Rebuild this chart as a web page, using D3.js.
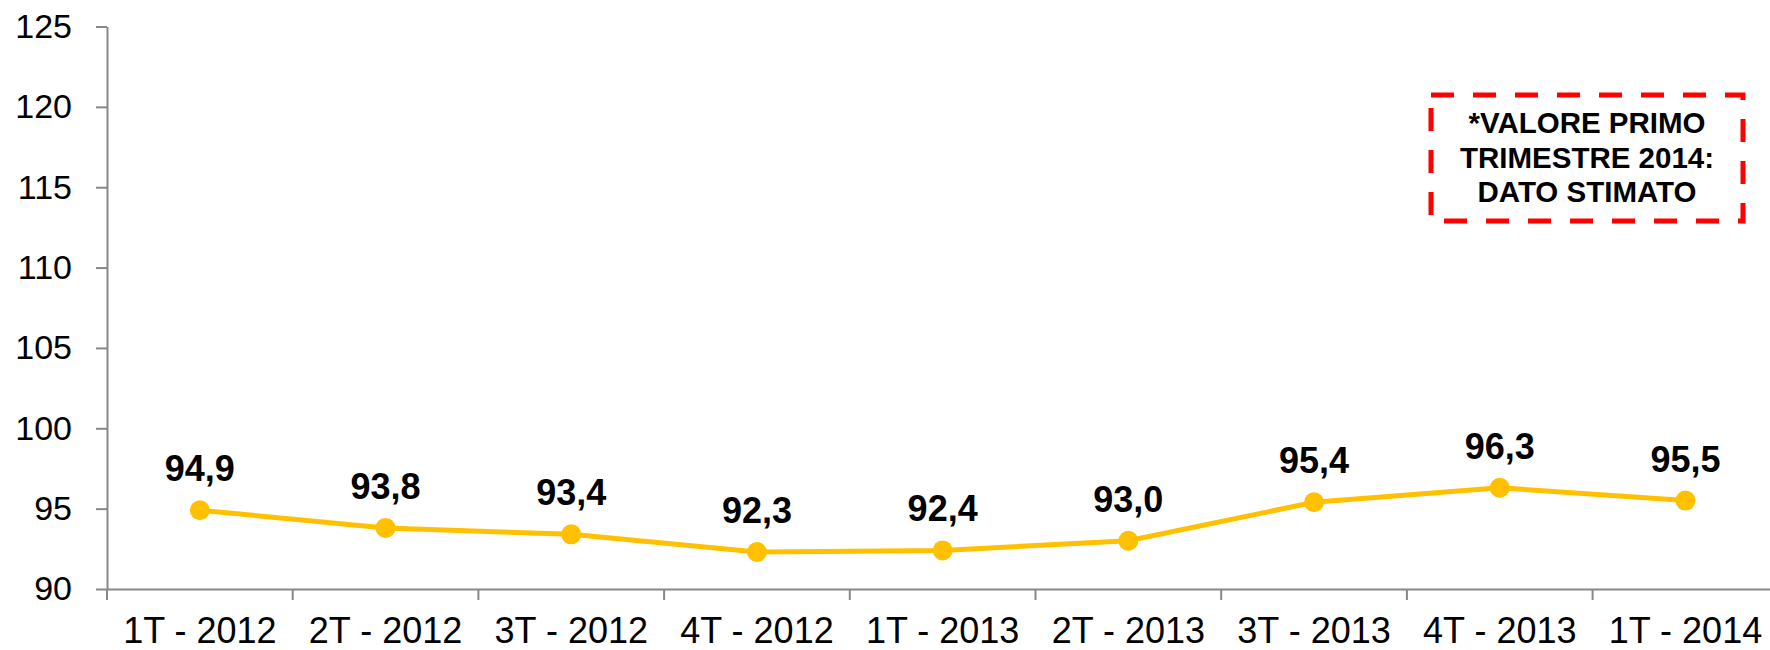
<!DOCTYPE html>
<html>
<head>
<meta charset="utf-8">
<script src="https://cdn.jsdelivr.net/npm/d3@7"></script>
<style>
  body { margin: 0; background: #fff; }
  text { font-family: "Liberation Sans", Arial, sans-serif; }
</style>
</head>
<body>
<div id="chart"></div>
<script>
// data
var quarters = ["1T - 2012", "2T - 2012", "3T - 2012", "4T - 2012", "1T - 2013",
                "2T - 2013", "3T - 2013", "4T - 2013", "1T - 2014"]
var values = [94.9, 93.8, 93.4, 92.3, 92.4, 93.0, 95.4, 96.3, 95.5]
var yTicks = [90, 95, 100, 105, 110, 115, 120, 125]
var noteLines = ["*VALORE PRIMO", "TRIMESTRE 2014:", "DATO STIMATO"]

var W = 1770, H = 650
var mLeft = 107, mTop = 26.5, mBottom = 589
var bandW = 185.7

var svg = d3.select("#chart")
  .append("svg")
    .attr("width", W)
    .attr("height", H)

var x = d3.scaleBand()
    .domain(quarters)
    .range([mLeft, mLeft + bandW * quarters.length])
    .padding(0)

var y = d3.scaleLinear()
    .domain([90, 125])
    .range([mBottom, mTop])

// y axis
var yAxis = svg.append("g")
    .attr("transform", "translate(" + mLeft + ",0)")
    .call(d3.axisLeft(y).tickValues(yTicks).tickSize(11).tickSizeOuter(0).tickPadding(24).tickFormat(d3.format("d")))
yAxis.selectAll("path, line").attr("stroke", "#888").attr("stroke-width", 2)
yAxis.selectAll("text")
    .attr("font-size", 34)
    .attr("fill", "#000")
    .style("font-family", "'Liberation Sans', Arial, sans-serif")

// x axis
var xAxis = svg.append("g")
    .attr("transform", "translate(0," + mBottom + ")")
    .call(d3.axisBottom(x).tickSize(0).tickPadding(0))
xAxis.select(".domain").attr("stroke", "#888").attr("stroke-width", 2)
xAxis.selectAll("text")
    .attr("font-size", 36)
    .attr("fill", "#000")
    .attr("dy", null)
    .attr("y", 54)
    .style("font-family", "'Liberation Sans', Arial, sans-serif")

// category separator ticks
var sep = quarters.map(function(d) { return x(d) })
sep.push(x.range()[1])
svg.append("g").selectAll("line")
  .data(sep)
  .enter()
  .append("line")
    .attr("x1", d => d)
    .attr("x2", d => d)
    .attr("y1", mBottom)
    .attr("y2", mBottom + 11)
    .attr("stroke", "#888")
    .attr("stroke-width", 2)

var cx = d => x(d) + x.bandwidth() / 2

// line
var line = d3.line()
    .x((d, i) => cx(quarters[i]))
    .y(d => y(d))

svg.append("path")
    .datum(values)
    .attr("fill", "none")
    .attr("stroke", "#FFC000")
    .attr("stroke-width", 5)
    .attr("d", line)

svg.append("g").selectAll("circle")
  .data(values)
  .enter()
  .append("circle")
    .attr("cx", (d, i) => cx(quarters[i]))
    .attr("cy", d => y(d))
    .attr("r", 10)
    .attr("fill", "#FFC000")

// value labels
svg.append("g").selectAll("text")
  .data(values)
  .enter()
  .append("text")
    .attr("x", (d, i) => cx(quarters[i]))
    .attr("y", d => y(d) - 29)
    .attr("text-anchor", "middle")
    .attr("font-size", 36)
    .attr("font-weight", "bold")
    .text(d => d3.format(".1f")(d).replace(".", ","))

// note box
var note = svg.append("g")
note.append("rect")
    .attr("x", 1431)
    .attr("y", 95)
    .attr("width", 312)
    .attr("height", 126)
    .attr("fill", "none")
    .attr("stroke", "#FF0000")
    .attr("stroke-width", 5)
    .attr("stroke-dasharray", "23,19")

note.selectAll("text")
  .data(noteLines)
  .enter()
  .append("text")
    .attr("x", 1587)
    .attr("y", (d, i) => 133 + i * 34.5)
    .attr("text-anchor", "middle")
    .attr("font-size", 29.5)
    .attr("font-weight", "bold")
    .text(d => d)
</script>
</body>
</html>
